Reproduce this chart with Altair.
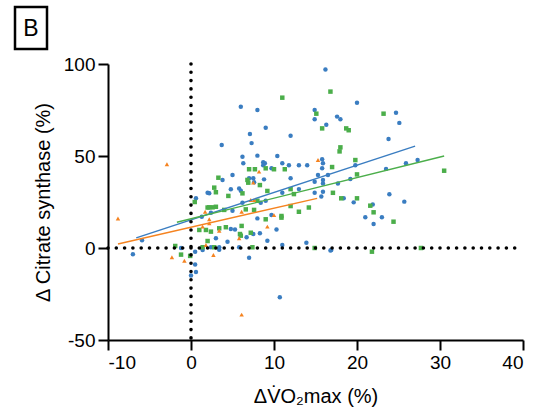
import altair as alt
import pandas as pd

# ---- data ----
blue_x = [0.6, 2.0, 1.3, -5.9, -7.0, -1.2, 0.5, 1.3, 0.5, 0.0, 0.6, 1.4, 3.4, 7.0, 10.7, 16.8,
          15.9, 15.8, 15.3, 16.5, 15.9, 15.9, 14.9, 17.7, 19.2, 19.8, 23.5, 25.9, 27.3, 14.9,
          15.9, 15.7, 18.4, 19.6, 23.9, 25.7, 21.9, 21.0, 23.0, 22.0, 16.9, 16.2, 20.0, 14.9,
          14.9, 17.6, 18.0, 16.3, 24.7, 25.1, 23.8, 15.8, 6.0, 8.0, 9.0, 7.1, 12.0, 3.7, 7.3,
          6.2, 8.0, 10.4, 6.3, 8.7, 8.9, 8.7, 11.0, 11.8, 13.0, 14.0, 9.7, 5.0, 3.8, 7.0, 7.5,
          7.6, 8.8, 12.0, 2.2, 4.8, 5.8, 6.0, 11.0, 13.0, 2.4, 6.2, 8.4, 9.0, 5.0, 9.7, 8.0,
          3.0, 4.8, 5.3, 10.3, 6.7, 7.5, 8.3, 9.2, 4.4, 2.4, 3.4, 5.8, 11.0, 13.9]
blue_y = [27, 30, 17, 4.2, -3.4, 0, -2, 0, -9, -15, -13, -1.1, -1, -5.3, -26.8, -1.4,
          46, 43.3, 39.7, 39.7, 37, 35, 36, 35, 37.5, 45, 43, 46, 47.8, 30,
          30.6, 28, 27, 24.8, 29.2, 25.2, 23.7, 16.7, 16.7, 13, -1.1, 97, 79, 75,
          70, 71.4, 70, 67, 73.5, 68, 59.2, 48.2, 76.8, 75, 65.4, 62, 61, 56, 57,
          49.6, 50.2, 50, 46, 46.6, 46, 45, 46, 45, 45, 45, 43.3, 39.7, 37, 37.9, 37.9,
          35.7, 37.3, 37.9, 29.7, 31.9, 32.4, 31.1, 30, 32, 19.2, 24.6, 24.6, 25.7, 20.3, 17.9, 16.1,
          5.3, 10.3, 10.1, 10.1, 5.8, 7.6, 8, 4, 3.4, 0.4, 0.4, 0.4, 1.6, 2.9]

green_x = [0.45, 2.0, 1.0, 1.8, -1.9, -0.1, 2.0, -1.2, 21.8, 17.0, 20.0, 19.8, 30.5, 17.1,
           18.1, 20.0, 21.6, 22.0, 24.4, 14.2, 14.9, 27.7, 16.8, 15.1, 15.8, 18.7, 19.0, 23.2,
           18.0, 17.9, 11.0, 7.0, 7.7, 9.0, 10.0, 11.3, 6.8, 6.9, 8.3, 2.8, 3.0, 6.2, 4.5,
           9.2, 12.0, 12.4, 2.2, 2.6, 3.0, 4.0, 8.0, 6.6, 7.6, 10.9, 10.9, 12.0, 13.0, 9.0,
           2.4, 3.4, 4.2, 6.1, 5.9, 6.0, 7.2, 1.4, 2.8, 7.4, 3.3]
green_y = [25, 22, 9.8, 9.8, 1.1, -4.3, 3.8, -3.6, -2, 44, 40, 47.8, 42, 30,
           27, 27, 23, 19.4, 14.3, 22, 0, 0, 85, 73, 65, 65, 64, 73,
           54.7, 52.5, 81.7, 42.8, 42.8, 43.3, 42.8, 42.8, 37, 35.5, 34.2, 32.8, 30.3, 29.7, 28.3,
           31, 32, 29.3, 22.1, 22.1, 22.4, 20.7, 25.7, 21, 20.7, 17.4, 16.5, 22.8, 19.7, 15.6,
           8.9, 10.7, 11.3, 12, 7.6, 6.7, 8.3, 0.4, 0.4, 0.4, 38.2]

orange_x = [-8.8, -2.9, 15.3, 8.2, 7.5, 7.2, 7.6, 1.7, 2.2, 2.2, 1.4, 3.4, 6.1, 10.0, 9.2,
            5.8, 1.8, -2.3, -0.8, 2.7, 6.1]
orange_y = [16, 45.5, 47.8, 41.5, 35.5, 26.1, 26.1, 19.7, 15.6, 13.4, 11.6, 9.4, 19.7, 17.9, 11.6,
            5.3, 1.6, -5, -6.9, -3.8, -36.2]

# fitted lines (end points)
fit_group = ["blue", "blue", "green", "green", "orange", "orange"]
fit_x = [-6.6, 27.0, -1.7, 30.5, -8.8, 15.2]
fit_y = [5.5, 55.4, 14.0, 50.0, 2.2, 27.0]

x_ticks = [-10, 0, 10, 20, 30, 40]
y_ticks = [-50, 0, 50, 100]

groups = ["blue", "green", "orange"]
colors = ["#3A7DC1", "#4BAE4A", "#F58320"]
shapes = ["circle", "square", "triangle-up"]

rows = []
for g, xs, ys in (("blue", blue_x, blue_y), ("green", green_x, green_y), ("orange", orange_x, orange_y)):
    for a, b in zip(xs, ys):
        rows.append({"g": g, "x": a, "y": b})
pts = pd.DataFrame(rows)
fits = pd.DataFrame({"g": fit_group, "x": fit_x, "y": fit_y})

FONT = "Liberation Sans"
xs = alt.Scale(domain=[-10, 40], nice=False)
ys = alt.Scale(domain=[-50, 100], nice=False)
col = alt.Scale(domain=groups, range=colors)

points = alt.Chart(pts).mark_point(filled=True, opacity=1, size=20).encode(
    x=alt.X("x:Q", scale=xs, axis=alt.Axis(values=x_ticks, title="ΔV̇O₂max (%)", titlePadding=14,
                                           labelExpr="'' + datum.value")),
    y=alt.Y("y:Q", scale=ys, axis=alt.Axis(values=y_ticks, title="Δ Citrate synthase (%)", titlePadding=10,
                                           labelExpr="'' + datum.value")),
    color=alt.Color("g:N", scale=col, legend=None),
    shape=alt.Shape("g:N", scale=alt.Scale(domain=groups, range=shapes), legend=None),
)

lines = alt.Chart(fits).mark_line(strokeWidth=1.4).encode(
    x=alt.X("x:Q", scale=xs),
    y=alt.Y("y:Q", scale=ys),
    color=alt.Color("g:N", scale=col, legend=None),
    detail="g:N",
)

vrule = alt.Chart(pd.DataFrame({"x": [0], "y": [100], "y2": [-50]})).mark_rule(
    color="black", strokeWidth=3.6, strokeDash=[0, 8.3], strokeCap="round"
).encode(x=alt.X("x:Q", scale=xs), y=alt.Y("y:Q", scale=ys), y2="y2:Q")

hrule = alt.Chart(pd.DataFrame({"y": [0], "x": [-10], "x2": [39]})).mark_rule(
    color="black", strokeWidth=3.6, strokeDash=[0, 8.3], strokeCap="round"
).encode(y=alt.Y("y:Q", scale=ys), x=alt.X("x:Q", scale=xs), x2="x2:Q")

box = alt.Chart(pd.DataFrame({"t": ["B"]})).mark_rect(
    fill="white", stroke="black", strokeWidth=2.5
).encode(x=alt.value(-93), x2=alt.value(-61), y=alt.value(-57), y2=alt.value(-15))

label = alt.Chart(pd.DataFrame({"t": ["B"]})).mark_text(
    font=FONT, fontSize=23, color="black", align="center", baseline="middle"
).encode(x=alt.value(-77), y=alt.value(-35), text="t:N")

chart = alt.layer(points, lines, vrule, hrule, box, label).properties(
    width=415, height=276,
    autosize=alt.AutoSizeParams(type="none"),
    padding={"left": 108, "top": 64, "right": 18, "bottom": 74},
).configure_view(stroke=None).configure_axis(
    grid=False,
    domainColor="black", domainWidth=2,
    tickColor="black", tickWidth=2, tickSize=10,
    labelFont=FONT, labelFontSize=19, labelColor="black", labelPadding=3,
    titleFont=FONT, titleFontSize=20, titleFontWeight="normal", titleColor="black",
)

chart.save("out.html", embed_options={"renderer": "svg", "actions": False})
